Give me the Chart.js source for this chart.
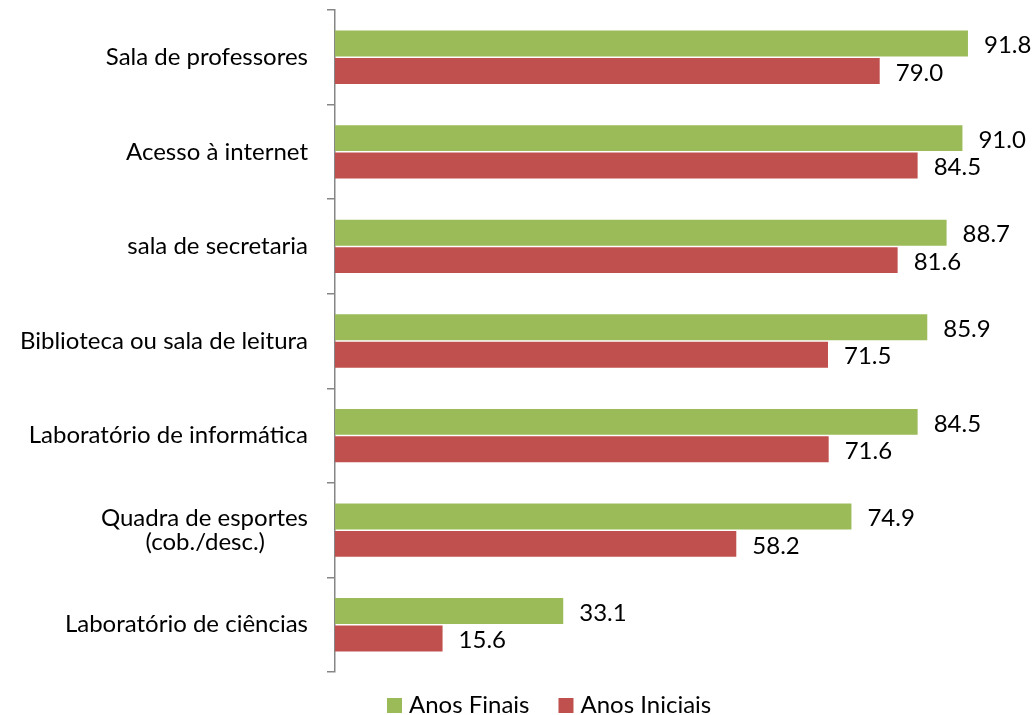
<!DOCTYPE html>
<html>
<head>
<meta charset="utf-8">
<script src="https://cdn.jsdelivr.net/npm/chart.js@4"></script>
<style>
  html, body { margin: 0; padding: 0; background: #fff; }
  #wrap { width: 1034px; height: 715px; position: relative; }
</style>
</head>
<body>
<div id="wrap"><canvas id="c" width="1034" height="715"></canvas></div>
<script>
const categories = [
  "Sala de professores",
  "Acesso à internet",
  "sala de secretaria",
  "Biblioteca ou sala de leitura",
  "Laboratório de informática",
  ["Quadra de esportes", "(cob./desc.)       "],
  "Laboratório de ciências"
];
const seriesNames = ["Anos Finais", "Anos Iniciais"];
const anosFinais = [91.8, 91.0, 88.7, 85.9, 84.5, 74.9, 33.1];
const anosIniciais = [79.0, 84.5, 81.6, 71.5, 71.6, 58.2, 15.6];
const colors = ["#9BBB59", "#C0504D"];

const FONT = "Lato, 'Liberation Sans', sans-serif";
const FSIZE = 24;

const valueLabels = {
  id: 'valueLabels',
  afterDatasetsDraw(chart) {
    const ctx = chart.ctx;
    ctx.save();
    ctx.font = FSIZE + "px " + FONT;
    ctx.fillStyle = "#000";
    ctx.textAlign = "left";
    ctx.textBaseline = "middle";
    chart.data.datasets.forEach((ds, di) => {
      const meta = chart.getDatasetMeta(di);
      meta.data.forEach((bar, i) => {
        ctx.fillText(ds.data[i].toFixed(1), bar.x + 16, bar.y + 2);
      });
    });
    ctx.restore();
  }
};

const customLegend = {
  id: 'customLegend',
  afterDraw(chart) {
    const ctx = chart.ctx;
    ctx.save();
    ctx.font = FSIZE + "px " + FONT;
    ctx.textBaseline = "middle";
    ctx.textAlign = "left";
    const y = 705;
    let x = 387;
    chart.data.datasets.forEach((ds, di) => {
      ctx.fillStyle = ds.backgroundColor;
      ctx.fillRect(x, y - 7, 15, 15);
      ctx.fillStyle = "#000";
      ctx.fillText(ds.label, x + 22, y);
      x += 22 + ctx.measureText(ds.label).width + 29;
    });
    ctx.restore();
  }
};

new Chart(document.getElementById('c'), {
  type: 'bar',
  data: {
    labels: categories,
    datasets: [
      { label: seriesNames[0], data: anosFinais, backgroundColor: colors[0], barPercentage: 0.945, categoryPercentage: 0.58 },
      { label: seriesNames[1], data: anosIniciais, backgroundColor: colors[1], barPercentage: 0.945, categoryPercentage: 0.58 }
    ]
  },
  options: {
    indexAxis: 'y',
    responsive: false,
    animation: false,
    layout: { padding: { left: 0, right: 9.5, top: 10, bottom: 43 } },
    plugins: { legend: { display: false }, tooltip: { enabled: false } },
    scales: {
      x: { display: false, min: 0, max: 100 },
      y: {
        afterFit(scale) { scale.width = 335; scale.paddingTop = 0; scale.paddingBottom = 0; },
        grid: { drawOnChartArea: false, drawTicks: true, tickLength: 8, color: '#868686', lineWidth: 1.5, offset: true },
        border: { display: true, color: '#868686', width: 1.5 },
        ticks: { color: '#000', font: { size: FSIZE, family: FONT, lineHeight: 1.02 }, padding: 19 }
      }
    }
  },
  plugins: [valueLabels, customLegend]
});
</script>
</body>
</html>
